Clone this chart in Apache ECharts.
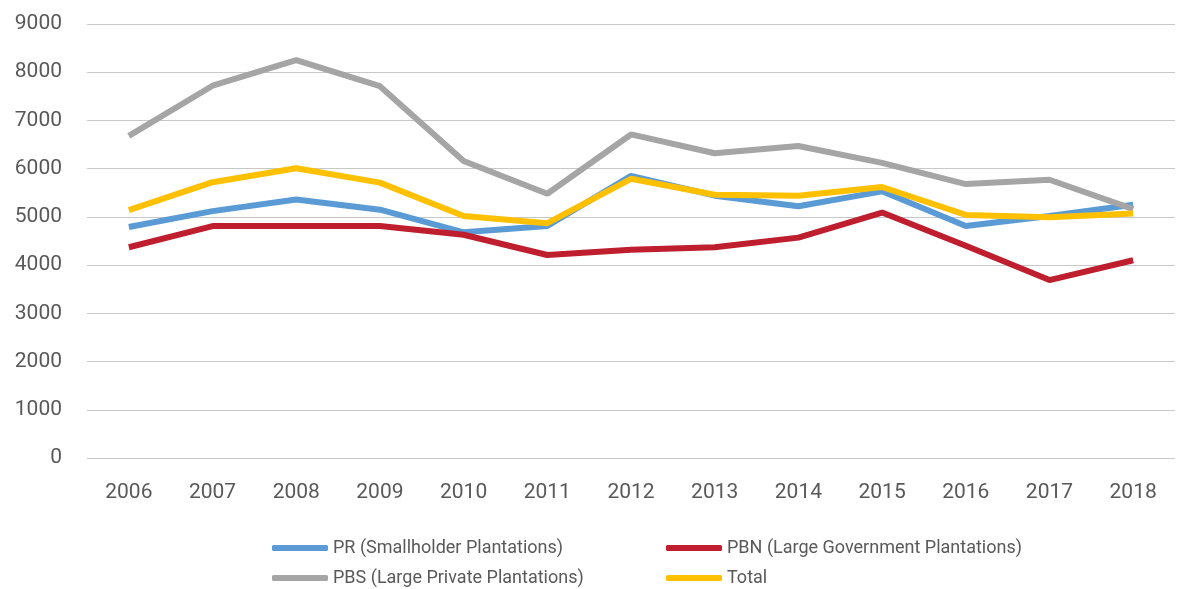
<!DOCTYPE html>
<html>
<head>
<meta charset="utf-8">
<style>
  html, body { margin: 0; padding: 0; background: #fff; }
  #chart { width: 1181px; height: 589px; }
</style>
<script src="https://cdn.jsdelivr.net/npm/echarts@6/dist/echarts.min.js"></script>
</head>
<body>
<div id="chart"></div>
<script>
const years = ['2006', '2007', '2008', '2009', '2010', '2011', '2012', '2013', '2014', '2015', '2016', '2017', '2018'];
const prValues = [4790, 5120, 5360, 5150, 4680, 4810, 5850, 5440, 5220, 5530, 4810, 5020, 5250];
const pbnValues = [4370, 4810, 4810, 4810, 4630, 4210, 4320, 4370, 4570, 5090, 4400, 3690, 4100];
const pbsValues = [6680, 7720, 8250, 7710, 6160, 5480, 6710, 6320, 6470, 6120, 5680, 5770, 5160];
const totalValues = [5140, 5720, 6010, 5710, 5020, 4870, 5790, 5460, 5440, 5620, 5040, 4990, 5070];

const seriesNames = ['PR (Smallholder Plantations)', 'PBN (Large Government Plantations)', 'PBS (Large Private Plantations)', 'Total'];
const seriesColors = ['#5b9bd5', '#be1e2d', '#a5a5a5', '#ffc000'];
const seriesData = [prValues, pbnValues, pbsValues, totalValues];

const chart = echarts.init(document.getElementById('chart'));

const legendText = {
    color: '#595959',
    fontSize: 18,
    lineHeight: 18,
    fontFamily: 'Roboto'
};

chart.setOption({
    animation: false,
    grid: {
        top: 24,
        left: 87,
        right: 6,
        bottom: 131
    },
    legend: [
        {
            orient: 'vertical',
            left: 272,
            top: 539,
            padding: 0,
            itemWidth: 56,
            itemHeight: 6,
            itemGap: 12,
            icon: 'roundRect',
            textStyle: legendText,
            data: [seriesNames[0], seriesNames[2]]
        },
        {
            orient: 'vertical',
            left: 666,
            top: 539,
            padding: 0,
            itemWidth: 56,
            itemHeight: 6,
            itemGap: 12,
            icon: 'roundRect',
            textStyle: legendText,
            data: [seriesNames[1], seriesNames[3]]
        }
    ],
    xAxis: {
        type: 'category',
        data: years,
        axisLine: { show: false },
        axisTick: { show: false },
        axisLabel: {
            color: '#595959',
            fontSize: 21,
            fontFamily: 'Roboto',
            margin: 24
        }
    },
    yAxis: {
        type: 'value',
        min: 0,
        max: 9000,
        interval: 1000,
        axisLine: { show: false },
        axisTick: { show: false },
        splitLine: {
            lineStyle: { color: '#c8c8c8', width: 1 }
        },
        axisLabel: {
            color: '#595959',
            fontSize: 21,
            fontFamily: 'Roboto',
            margin: 25,
            formatter: (v) => String(v)
        }
    },
    series: seriesNames.map((name, i) => ({
        name: name,
        type: 'line',
        data: seriesData[i],
        symbol: 'none',
        color: seriesColors[i],
        lineStyle: { width: 6, color: seriesColors[i] },
        itemStyle: { color: seriesColors[i] },
        z: i === 3 ? 4 : 3
    }))
});
</script>
</body>
</html>
